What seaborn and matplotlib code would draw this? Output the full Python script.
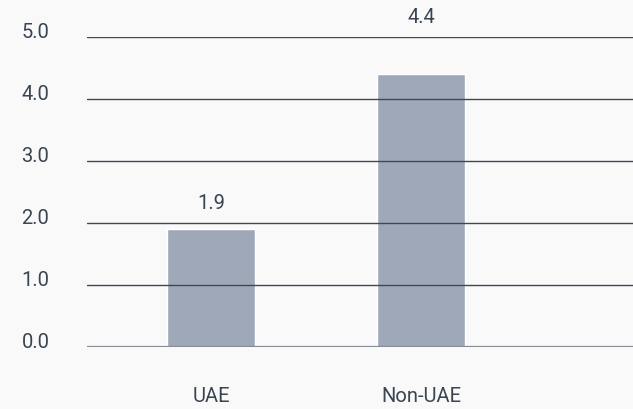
import numpy as np
import pandas as pd
import matplotlib
matplotlib.use("Agg")
import matplotlib.pyplot as plt
import seaborn as sns

categories = ["UAE", "Non-UAE"]
values = [1.9, 4.4]
yticks = [0.0, 1.0, 2.0, 3.0, 4.0, 5.0]

sns.set_theme(style="white")
plt.rcParams["font.family"] = ["Roboto", "DejaVu Sans"]

bg = "#f9f9f9"
txt = "#3a4452"
fig = plt.figure(figsize=(6.33, 4.10), dpi=100, facecolor=bg)
ax = fig.add_axes([87 / 633, 1 - 348 / 410, 1 - 87 / 633, (348 - 38) / 410])
ax.set_facecolor(bg)

df = pd.DataFrame({"cat": categories, "val": values})
sns.barplot(data=df, x="cat", y="val", color="#9fa8b8", saturation=1,
            width=0.42, ax=ax, zorder=1)

ax.set_xlim(-0.59, 2.01)
ax.set_ylim(0, 5)
ax.set_yticks(yticks)
ax.set_yticklabels([f"{t:.1f}" for t in yticks])
for t in yticks[1:]:
    ax.axhline(t, color="#3d4856", lw=1.0, zorder=3)
ax.axhline(0, color="#858c96", lw=1.6, zorder=3)

for sp in ax.spines.values():
    sp.set_visible(False)
ax.tick_params(axis="both", length=0, labelsize=14.5, labelcolor=txt)
ax.tick_params(axis="y", pad=27)
ax.tick_params(axis="x", pad=28)
for lab in ax.get_yticklabels():
    lab.set_va("baseline")
ax.set_xlabel("")
ax.set_ylabel("")

for i, v in enumerate(values):
    ax.annotate(f"{v:.1f}", xy=(i, np.ceil(v)), xytext=(0, 8),
                textcoords="offset points", ha="center", va="bottom",
                fontsize=14.5, color=txt, annotation_clip=False)

fig.savefig("out.png", dpi=100, facecolor=bg)
